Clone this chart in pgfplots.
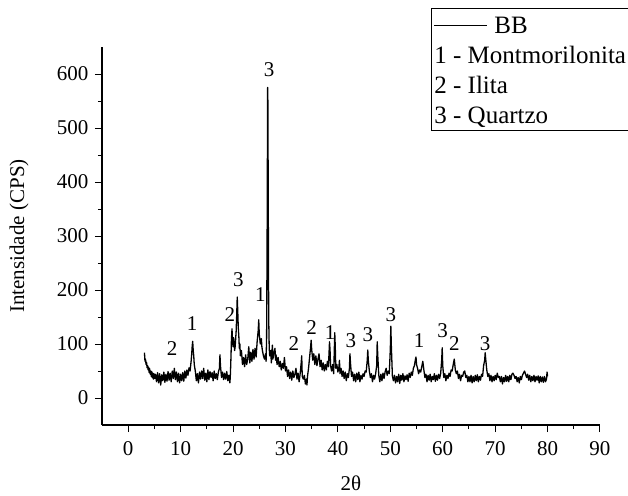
\documentclass[border=0pt]{standalone}
\usepackage{pgfplots}
\usepackage{pgfplotstable}
\pgfplotsset{compat=1.18}
\usepackage{fontspec}
\setmainfont{Liberation Serif}

\pgfplotstableread{
x y
3.1 84
3.2 68
3.3 72
3.4 62
3.5 66
3.6 56
3.7 60
3.8 52
3.9 57
4.0 47
4.1 54
4.2 44
4.3 50
4.4 40
4.5 49
4.6 38
4.7 46
4.8 35
4.9 45
5.0 36
5.2 44
5.4 30
5.6 47
5.8 28
6.0 45
6.2 24
6.4 43
6.6 32
6.8 48
7.0 29
7.2 44
7.4 31
7.6 49
7.8 33
8.0 46
8.2 30
8.4 50
8.6 36
8.8 55
9.0 34
9.2 48
9.4 30
9.6 46
9.8 28
10.0 44
10.2 32
10.4 47
10.6 31
10.8 50
11.0 37
11.2 52
11.4 42
11.6 56
11.8 50
12.0 68
12.1 80
12.2 95
12.3 105
12.4 88
12.5 78
12.6 62
12.8 50
13.0 32
13.2 45
13.4 28
13.6 48
13.8 35
14.0 50
14.2 36
14.4 55
14.6 33
14.8 46
15.0 30
15.2 52
15.4 34
15.6 49
15.8 38
16.0 47
16.2 32
16.4 50
16.6 36
16.8 45
17.0 34
17.2 48
17.4 55
17.5 80
17.6 60
17.8 38
18.0 48
18.2 34
18.4 46
18.6 35
18.8 49
19.0 32
19.2 42
19.4 28
19.5 45
19.6 75
19.7 110
19.8 128
19.9 105
20.0 95
20.1 112
20.2 100
20.3 88
20.4 95
20.5 110
20.6 125
20.7 155
20.8 187
20.9 160
21.0 130
21.1 115
21.2 92
21.3 100
21.4 78
21.6 88
21.8 62
22.0 75
22.2 58
22.4 80
22.6 62
22.8 72
23.0 95
23.2 65
23.4 85
23.6 68
23.8 90
24.0 72
24.2 92
24.4 76
24.6 105
24.8 125
24.9 145
25.0 118
25.2 100
25.4 110
25.5 95
25.6 88
25.8 78
26.0 72
26.2 82
26.3 68
26.4 110
26.5 300
26.6 575
26.65 545
26.7 400
26.8 150
26.9 92
27.0 78
27.2 88
27.3 65
27.5 98
27.6 72
27.8 85
28.0 92
28.1 70
28.2 80
28.4 62
28.6 75
28.8 58
29.0 68
29.2 52
29.4 64
29.6 55
29.8 75
30.0 50
30.2 58
30.4 40
30.6 52
30.8 36
31.0 48
31.2 33
31.4 50
31.6 38
31.8 44
32.0 55
32.2 35
32.4 46
32.6 30
32.8 45
33.0 65
33.1 78
33.2 40
33.4 35
33.6 42
33.8 26
34.0 35
34.1 24
34.2 40
34.4 55
34.6 75
34.8 95
34.9 107
35.0 90
35.2 70
35.4 82
35.6 62
35.8 78
36.0 60
36.2 72
36.4 82
36.6 58
36.8 70
37.0 52
37.2 65
37.4 50
37.6 62
37.8 52
38.0 68
38.2 58
38.4 104
38.5 90
38.6 60
38.8 50
39.0 62
39.2 45
39.4 121
39.5 95
39.6 55
39.8 62
40.0 48
40.2 58
40.3 70
40.4 45
40.6 55
40.8 40
41.0 50
41.2 36
41.4 48
41.6 32
41.8 45
42.0 38
42.2 55
42.3 82
42.4 65
42.6 40
42.8 48
43.0 32
43.2 44
43.4 30
43.6 46
43.8 34
44.0 48
44.2 30
44.4 42
44.6 35
44.8 45
45.0 40
45.2 50
45.4 48
45.6 70
45.7 89
45.8 70
46.0 50
46.2 38
46.4 45
46.6 30
46.8 42
47.0 35
47.2 45
47.4 60
47.5 104
47.6 80
47.8 42
48.0 30
48.2 44
48.4 32
48.6 46
48.8 36
49.0 48
49.2 55
49.4 42
49.6 50
49.8 45
50.0 90
50.1 133
50.2 95
50.4 40
50.6 32
50.8 42
51.0 28
51.2 40
51.4 30
51.6 44
51.8 27
52.0 42
52.2 33
52.4 45
52.6 30
52.8 41
53.0 34
53.2 43
53.4 31
53.6 46
53.8 38
54.0 48
54.2 42
54.4 55
54.6 60
54.8 72
54.9 76
55.0 62
55.2 55
55.4 45
55.6 52
55.8 48
56.0 58
56.2 68
56.4 52
56.6 38
56.8 44
57.0 30
57.2 42
57.4 33
57.6 44
57.8 30
58.0 40
58.2 34
58.4 45
58.6 31
58.8 42
59.0 33
59.2 44
59.4 36
59.6 45
59.8 70
59.9 93
60.0 60
60.2 38
60.4 45
60.6 32
60.8 42
61.0 36
61.2 46
61.4 40
61.6 52
61.8 50
62.0 62
62.2 72
62.4 52
62.6 45
62.8 50
63.0 36
63.2 44
63.4 32
63.6 42
63.8 40
64.0 48
64.2 50
64.4 38
64.6 42
64.8 30
65.0 40
65.2 30
65.4 42
65.6 28
65.8 40
66.0 30
66.2 42
66.4 32
66.6 43
66.8 30
67.0 40
67.2 33
67.4 44
67.6 40
67.8 60
68.0 70
68.1 84
68.2 72
68.4 52
68.6 40
68.8 45
69.0 32
69.2 42
69.4 30
69.6 40
69.8 32
70.0 42
70.2 34
70.4 46
70.6 38
70.8 40
71.0 30
71.2 40
71.4 26
71.6 38
71.8 30
72.0 42
72.2 31
72.4 40
72.6 30
72.8 42
73.0 34
73.2 44
73.4 46
73.6 42
73.8 36
74.0 40
74.2 30
74.4 38
74.6 28
74.8 40
75.0 34
75.2 42
75.4 46
75.6 50
75.8 44
76.0 38
76.2 44
76.4 33
76.6 42
76.8 30
77.0 40
77.2 32
77.4 42
77.6 30
77.8 40
78.0 33
78.2 41
78.4 28
78.6 40
78.8 30
79.0 39
79.2 29
79.4 40
79.6 30
79.8 35
79.9 48
80.0 40
}\bbdata

\begin{document}
\begin{tikzpicture}
\begin{axis}[
  scale only axis,
  width=498pt, height=378pt,
  xmin=-5, xmax=90, ymin=-50, ymax=650,
  xtick={0,10,...,90}, ytick={0,100,...,600},
  minor x tick num=1, minor y tick num=1,
  axis x line*=bottom, axis y line*=left,
  axis line style={-, line width=1.2pt},
  tick style={line width=1pt, black},
  tick align=outside,
  major tick length=7pt, minor tick length=4pt,
  ticklabel style={font=\fontsize{21}{25}\selectfont},
  /pgf/number format/assume math mode=true,
  xticklabel style={yshift=-6pt},
  yticklabel style={xshift=-3pt},
  xlabel={2θ}, ylabel={Intensidade (CPS)},
  label style={font=\fontsize{21}{25}\selectfont},
  x label style={at={(axis description cs:0.5,-0.153)}, anchor=center},
  y label style={at={(axis description cs:-0.1667,0.5)}, anchor=center},
  clip=false,
]
\addplot[black, line width=1.3pt, line join=round] table[x=x, y=y] {\bbdata};
\coordinate (bl) at (rel axis cs:0,0);
\begin{scope}[every node/.style={font=\fontsize{21}{25}\selectfont}]
\node at (axis cs:8.4,91) {2};
\node at (axis cs:12.2,137) {1};
\node at (axis cs:19.4,155) {2};
\node at (axis cs:21.0,220) {3};
\node at (axis cs:25.2,191) {1};
\node at (axis cs:26.9,608) {3};
\node at (axis cs:31.6,100) {2};
\node at (axis cs:35.0,130) {2};
\node at (axis cs:38.5,122) {1};
\node at (axis cs:42.5,107) {3};
\node at (axis cs:45.7,118) {3};
\node at (axis cs:50.1,155) {3};
\node at (axis cs:55.5,107) {1};
\node at (axis cs:60.0,124) {3};
\node at (axis cs:62.2,100) {2};
\node at (axis cs:68.1,100) {3};
\end{scope}
\end{axis}
\node[draw, line width=0.8pt, anchor=north west, inner sep=3pt, align=left,
      font=\fontsize{25}{30}\selectfont]
  at ([shift={(329pt,417pt)}]bl)
  {\rule{0pt}{22pt}\rule[0.3em]{53pt}{0.8pt}\hspace{7pt}BB\\1 - Montmorilonita\\2 - Ilita\\3 - Quartzo};
\pgfresetboundingbox
\useasboundingbox (bl) ++(-102pt,-70pt) rectangle ++(628pt,495pt);
\end{tikzpicture}
\end{document}
